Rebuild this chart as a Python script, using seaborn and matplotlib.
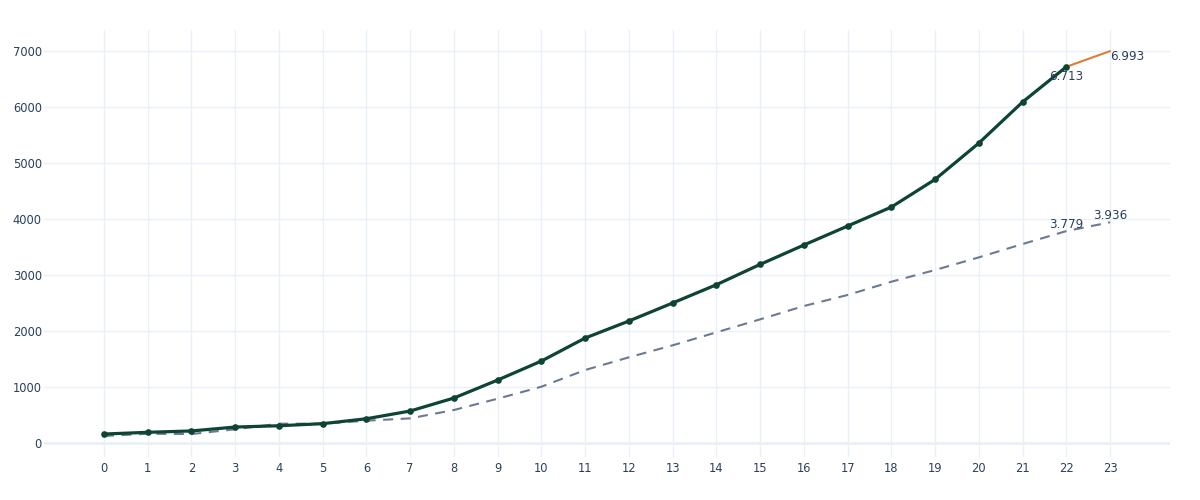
import matplotlib
matplotlib.use("Agg")
import matplotlib.pyplot as plt
import seaborn as sns
import pandas as pd

# ---- data ----
periods = list(range(24))
actual = [155, 186, 210, 280, 303, 340, 428, 566, 798, 1119, 1458, 1869, 2173,
          2495, 2821, 3184, 3530, 3869, 4208, 4702, 5350, 6084, 6713]
baseline = [120, 160, 155, 240, 340, 340, 393, 435, 584, 786, 1000, 1298, 1525,
            1739, 1971, 2203, 2441, 2638, 2875, 3084, 3310, 3548, 3779, 3936]
forecast_x = [22, 23]
forecast_y = [6713, 6993]
annot_labels = {"a22": "6.713", "f23": "6.993", "b22": "3.779", "b23": "3.936"}
y_ticks = [0, 1000, 2000, 3000, 4000, 5000, 6000, 7000]

df_actual = pd.DataFrame({"x": periods[:len(actual)], "y": actual})
df_base = pd.DataFrame({"x": periods[:len(baseline)], "y": baseline})
df_fc = pd.DataFrame({"x": forecast_x, "y": forecast_y})

sns.set_theme(style="white")
plt.rcParams["font.family"] = ["DejaVu Sans"]

text_col = "#2a3f5f"
grid_col = "#ebf0f8"

fig = plt.figure(figsize=(12, 5), dpi=100)
ax = fig.add_axes([44/1200, 1 - 457/500, (1170-44)/1200, (457-30)/500])

sns.lineplot(data=df_base, x="x", y="y", ax=ax, color="#6b7a94", lw=1.5,
             zorder=3)
ax.lines[-1].set_dashes([4.8, 3.6])
sns.lineplot(data=df_fc, x="x", y="y", ax=ax, color="#e07b39", lw=1.5, zorder=3)
sns.lineplot(data=df_actual, x="x", y="y", ax=ax, color="#0d4432", lw=2.3,
             marker="o", markersize=4.8, markeredgewidth=0, zorder=4)

# annotations
afs = 8.6
ax.annotate(annot_labels["a22"], xy=(22, actual[22]),
            xytext=(0, -2.5), textcoords="offset points", ha="center", va="top",
            fontsize=afs, color=text_col, zorder=5)
ax.annotate(annot_labels["f23"], xy=(forecast_x[1], forecast_y[1]),
            xytext=(0, 1), textcoords="offset points", ha="left", va="top",
            fontsize=afs, color=text_col, zorder=5)
ax.annotate(annot_labels["b22"], xy=(22, baseline[22]),
            xytext=(0, 0), textcoords="offset points", ha="center", va="bottom",
            fontsize=afs, color=text_col, zorder=5)
ax.annotate(annot_labels["b23"], xy=(23, baseline[23]),
            xytext=(0, 0.5), textcoords="offset points", ha="center", va="bottom",
            fontsize=afs, color=text_col, zorder=5)

ax.set_xlim(-1.37, 24.37)
ax.set_ylim(-255, 7370)
ax.set_xticks(periods)
ax.set_yticks(y_ticks)
ax.set_xlabel("")
ax.set_ylabel("")
ax.grid(True, color=grid_col, lw=1)
ax.axhline(0, color=grid_col, lw=2, zorder=1)
for s in ax.spines.values():
    s.set_visible(False)
ax.tick_params(axis="both", length=0, labelsize=8.3, labelcolor=text_col)
ax.tick_params(axis="x", pad=3.5)
ax.tick_params(axis="y", pad=1.5)

fig.savefig("out.png", dpi=100, facecolor="white")
